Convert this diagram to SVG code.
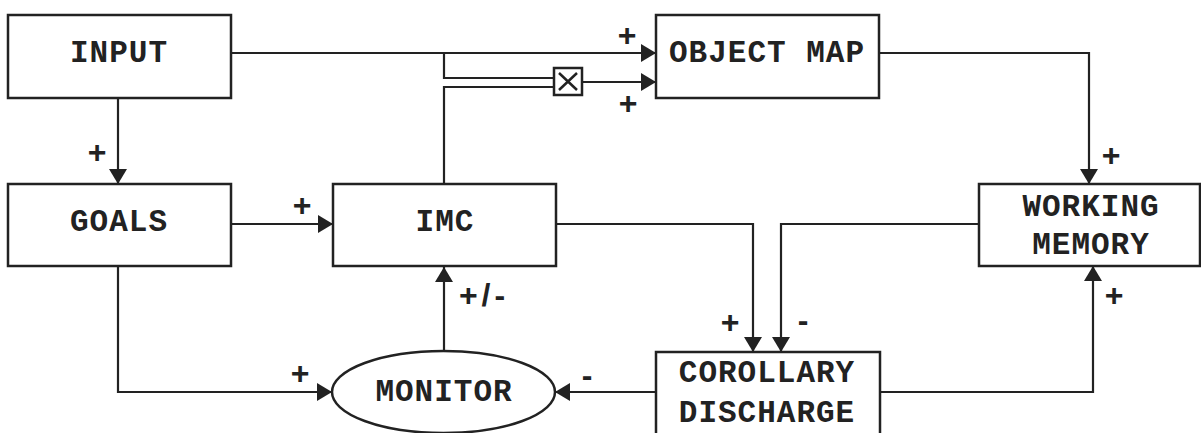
<svg xmlns="http://www.w3.org/2000/svg" width="1201" height="433" viewBox="0 0 1201 433">
<style>
.box{fill:#fff;stroke:#222;stroke-width:2.5}
.lbl{font-family:"Liberation Mono","Courier New",monospace;font-weight:bold;font-size:31px;fill:#222;text-anchor:middle;dominant-baseline:central;letter-spacing:1px}
.sg{font-family:"Liberation Sans",Arial,sans-serif;font-weight:bold;font-size:32px;fill:#222;text-anchor:middle;dominant-baseline:central}
.c{fill:none;stroke:#222;stroke-width:2.2}
</style>
<defs>
<marker id="ah" markerUnits="userSpaceOnUse" markerWidth="15" markerHeight="18" refX="15" refY="9" orient="auto">
<path d="M0,0 L15,9 L0,18 z" fill="#222"/>
</marker>
</defs>
<rect width="1201" height="433" fill="#fff"/>
<g id="connectors">
<path class="c" d="M231,53 H656" marker-end="url(#ah)"/>
<path class="c" d="M444,53 V78 H554"/>
<path class="c" d="M444,185 V87 H554"/>
<path class="c" d="M582,82 H656" marker-end="url(#ah)"/>
<path class="c" d="M879,53 H1089 V184" marker-end="url(#ah)"/>
<path class="c" d="M118,98 V184" marker-end="url(#ah)"/>
<path class="c" d="M231,224 H333" marker-end="url(#ah)"/>
<path class="c" d="M556,224 H753 V352" marker-end="url(#ah)"/>
<path class="c" d="M979,224 H781 V352" marker-end="url(#ah)"/>
<path class="c" d="M880,392 H1093 V266" marker-end="url(#ah)"/>
<path class="c" d="M656,392 H555" marker-end="url(#ah)"/>
<path class="c" d="M118,266 V392 H332" marker-end="url(#ah)"/>
<path class="c" d="M444,351 V267" marker-end="url(#ah)"/>
</g>
<g id="input"><rect class="box" x="8" y="15" width="223" height="83"/><text class="lbl" x="119" y="53">INPUT</text></g>
<g id="objectmap"><rect class="box" x="656" y="15" width="223" height="83"/><text class="lbl" x="767" y="53">OBJECT MAP</text></g>
<g id="goals"><rect class="box" x="8" y="184" width="223" height="82"/><text class="lbl" x="119" y="222">GOALS</text></g>
<g id="imc"><rect class="box" x="333" y="184" width="223" height="82"/><text class="lbl" x="445" y="222">IMC</text></g>
<g id="workingmemory"><rect class="box" x="979" y="184" width="221" height="82"/><text class="lbl" x="1091" y="207">WORKING</text><text class="lbl" x="1091" y="245">MEMORY</text></g>
<g id="corollary"><rect class="box" x="656" y="352" width="224" height="90"/><text class="lbl" x="767" y="373">COROLLARY</text><text class="lbl" x="767" y="413">DISCHARGE</text></g>
<g id="monitor"><ellipse class="box" cx="443.5" cy="392" rx="111.5" ry="41"/><text class="lbl" x="444" y="392">MONITOR</text></g>
<g id="multiplier"><rect class="box" x="554" y="68" width="28" height="27" stroke-width="2"/><path d="M559,73 L577,90 M577,73 L559,90" stroke="#222" stroke-width="2.5" fill="none"/></g>
<g id="signs">
<text class="sg" x="627" y="35">+</text>
<text class="sg" x="628" y="103">+</text>
<text class="sg" x="97" y="152">+</text>
<text class="sg" x="302" y="205">+</text>
<text class="sg" x="1111" y="155">+</text>
<text class="sg" x="730" y="322">+</text>
<text class="sg" x="1114" y="295">+</text>
<text class="sg" x="300" y="373">+</text>
<text class="sg" x="803" y="320">-</text>
<text class="sg" x="587" y="375">-</text>
<text class="sg" x="484" y="295" letter-spacing="4">+/-</text>
</g>
</svg>
